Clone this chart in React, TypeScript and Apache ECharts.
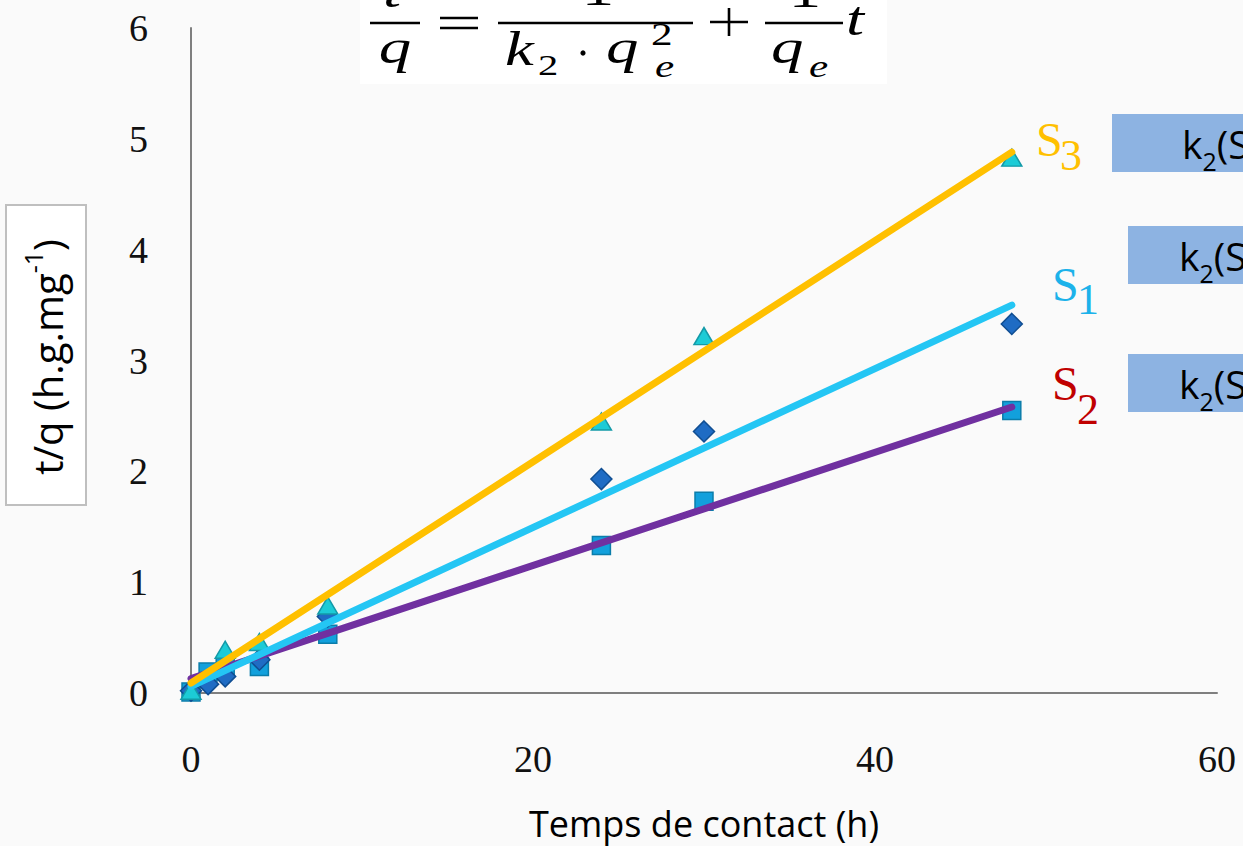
import React, { useEffect, useRef } from "react";
import * as echarts from "echarts";

// ---- data ----
const timeH = [0, 1, 2, 4, 8, 24, 30, 48];
const s1Measured: (number | null)[] = [0.02, 0.08, 0.15, 0.3, 0.69, 1.93, 2.36, 3.33];
const s2Measured: (number | null)[] = [0.01, 0.19, 0.23, 0.24, 0.53, 1.33, 1.73, 2.55];
const s3Measured: (number | null)[] = [0.02, null, 0.39, 0.46, 0.79, 2.45, 3.22, 4.83];

const fitTimes = [0, 48];
const s1Fit = [0.06, 3.5];
const s2Fit = [0.13, 2.58];
const s3Fit = [0.09, 4.88];

const xTickLabels = ["0", "20", "40", "60"];
const yTickLabels = ["0", "1", "2", "3", "4", "5", "6"];
const xAxisName = "Temps de contact (h)";

const pairs = (xs: number[], ys: (number | null)[]) =>
  xs.map((x, i) => [x, ys[i]]).filter((p) => p[1] !== null);

const SERIF = '"Liberation Serif", "DejaVu Serif", serif';
const SANS = '"Open Sans", "Noto Sans", sans-serif';

export default function App() {
  const ref = useRef<HTMLDivElement>(null);

  useEffect(() => {
    document.body.style.margin = "0";
    const chart = echarts.init(ref.current!, null, { renderer: "svg" });

    const mathIt = (size: number) => `italic ${size}px ${SERIF}`;
    const mathUp = (size: number) => `${size}px ${SERIF}`;
    const SX = 1.35;
    const t = (text: string, x: number, y: number, font: string, align = "left", fill = "#000", scaleX = 1) => ({
      type: "text",
      z: 20,
      x,
      y,
      scaleX,
      style: { text, x: 0, y: 0, font, fill, align, verticalAlign: "middle" },
    });
    const ln = (x1: number, y1: number, x2: number, y2: number, w = 2.6) => ({
      type: "line",
      z: 20,
      shape: { x1, y1, x2, y2 },
      style: { stroke: "#000", lineWidth: w },
    });

    const formula = [
      { type: "rect", z: 19, shape: { x: 360, y: 0, width: 527, height: 84 }, style: { fill: "#ffffff" } },
      // t / q
      t("t", 392, -9, mathIt(48), "center", "#000", SX),
      ln(370, 23, 420, 23),
      t("q", 395, 47, mathIt(48), "center", "#000", SX),
      // =
      ln(440, 18, 478, 18),
      ln(440, 28, 478, 28),
      // 1 / (k2 . qe^2)
      t("1", 598, -11, mathUp(48), "center", "#000", SX),
      ln(498, 23, 693, 23),
      t("k", 505, 49, mathIt(48), "left", "#000", SX),
      t("2", 538, 65, mathUp(30), "left", "#000", SX),
      { type: "circle", z: 20, shape: { cx: 583, cy: 53, r: 2.6 }, style: { fill: "#000" } },
      t("q", 606, 47, mathIt(48), "left", "#000", SX),
      t("2", 651, 34, mathUp(32), "left", "#000", SX),
      t("e", 655, 66, mathIt(32), "left", "#000", SX),
      // +
      ln(710, 22, 748, 22),
      ln(729, 8, 729, 36),
      // 1 / qe
      t("1", 805, -9, mathUp(48), "center", "#000", SX),
      ln(765, 23, 843, 23),
      t("q", 771, 47, mathIt(48), "left", "#000", SX),
      t("e", 809, 66, mathIt(32), "left", "#000", SX),
      t("t", 846, 19, mathIt(48), "left", "#000", SX),
    ];

    const yTitle = [
      { type: "rect", z: 10, shape: { x: 6, y: 205, width: 80, height: 300 }, style: { fill: "#ffffff", stroke: "#bfbfbf", lineWidth: 2 } },
      {
        type: "text",
        z: 11,
        x: 47,
        y: 357,
        rotation: Math.PI / 2,
        style: {
          text: "{n|t/q (h.g.mg}{p|-1}{n|)}",
          align: "center",
          verticalAlign: "middle",
          rich: {
            n: { fontFamily: SANS, fontSize: 40, lineHeight: 54, verticalAlign: "middle", fill: "#000" },
            p: { fontFamily: SANS, fontSize: 25, lineHeight: 54, verticalAlign: "top", fill: "#000" },
          },
        },
      },
    ];

    const lbl = (text: string, x: number, y: number, size: number, fill: string) => ({
      type: "text",
      z: 20,
      style: { text, x, y, font: mathUp(size), fill, align: "left", verticalAlign: "middle" },
    });
    const seriesLabels = [
      lbl("S", 1036, 139, 48, "#FFC000"),
      lbl("3", 1060, 155, 44, "#FFC000"),
      lbl("S", 1052, 284, 48, "#1CB2EA"),
      lbl("1", 1077, 299, 44, "#1CB2EA"),
      lbl("S", 1052, 383, 48, "#C00000"),
      lbl("2", 1077, 409, 44, "#C00000"),
    ];

    const kBox = (x: number, y: number, textX: number) => [
      { type: "rect", z: 10, shape: { x, y, width: 1243 - x + 5, height: 58 }, style: { fill: "#8DB3E2" } },
      {
        type: "text",
        z: 11,
        style: {
          text: "{n|k}{s|2}{n|(S}",
          x: textX,
          y: y + 29,
          align: "left",
          verticalAlign: "middle",
          rich: {
            n: { fontFamily: SANS, fontSize: 39, lineHeight: 60, verticalAlign: "middle", fill: "#000" },
            s: { fontFamily: SANS, fontSize: 25, lineHeight: 60, verticalAlign: "bottom", fill: "#000" },
          },
        },
      },
    ];

    const markerBorder = 1.5;

    chart.setOption({
      animation: false,
      backgroundColor: "#fafafa",
      grid: { left: 191, right: 26, top: 28, bottom: 153, containLabel: false, outerBoundsMode: "none" },
      xAxis: {
        type: "value",
        min: 0,
        max: 60,
        interval: 20,
        name: xAxisName,
        nameLocation: "middle",
        nameGap: 112,
        nameTextStyle: { fontFamily: SANS, fontSize: 36, color: "#000" },
        axisLine: { show: true, onZero: false, lineStyle: { color: "#7f7f7f", width: 2 } },
        axisTick: { show: false },
        splitLine: { show: false },
        axisLabel: {
          margin: 47,
          fontFamily: SERIF,
          fontSize: 38,
          color: "#111",
          formatter: (v: number) => xTickLabels[Math.round(v / 20)] ?? "",
        },
      },
      yAxis: {
        type: "value",
        min: 0,
        max: 6,
        interval: 1,
        axisLine: { show: true, onZero: false, lineStyle: { color: "#7f7f7f", width: 2 } },
        axisTick: { show: false },
        splitLine: { show: false },
        axisLabel: {
          margin: 43,
          fontFamily: SERIF,
          fontSize: 38,
          color: "#111",
          formatter: (v: number) => yTickLabels[Math.round(v)] ?? "",
        },
      },
      series: [
        {
          name: "S2 mesures",
          type: "scatter",
          symbol: "rect",
          symbolSize: 18,
          z: 2,
          itemStyle: { color: "#12A0DC", borderColor: "#0B7DAA", borderWidth: markerBorder, opacity: 1 },
          data: pairs(timeH, s2Measured),
        },
        {
          name: "S1 mesures",
          type: "scatter",
          symbol: "diamond",
          symbolSize: 21,
          z: 2,
          itemStyle: { color: "#1F6CC4", borderColor: "#104E92", borderWidth: markerBorder, opacity: 1 },
          data: pairs(timeH, s1Measured),
        },
        {
          name: "S3 mesures",
          type: "scatter",
          symbol: "triangle",
          symbolSize: [20, 17],
          z: 2,
          itemStyle: { color: "#1CCBD6", borderColor: "#139AA8", borderWidth: markerBorder, opacity: 1 },
          data: pairs(timeH, s3Measured),
        },
        {
          name: "S2",
          type: "line",
          z: 3,
          showSymbol: false,
          symbol: "none",
          lineStyle: { color: "#7030A0", width: 7, cap: "round" },
          data: pairs(fitTimes, s2Fit),
        },
        {
          name: "S1",
          type: "line",
          z: 3,
          showSymbol: false,
          symbol: "none",
          lineStyle: { color: "#24C6F4", width: 7, cap: "round" },
          data: pairs(fitTimes, s1Fit),
        },
        {
          name: "S3",
          type: "line",
          z: 3,
          showSymbol: false,
          symbol: "none",
          lineStyle: { color: "#FFC000", width: 7, cap: "round" },
          data: pairs(fitTimes, s3Fit),
        },
      ],
      graphic: [
        ...formula,
        ...yTitle,
        ...seriesLabels,
        ...kBox(1112, 114, 1182),
        ...kBox(1128, 226, 1179),
        ...kBox(1128, 354, 1179),
      ],
    });

    return () => chart.dispose();
  }, []);

  return <div ref={ref} style={{ width: 1243, height: 846 }} />;
}
